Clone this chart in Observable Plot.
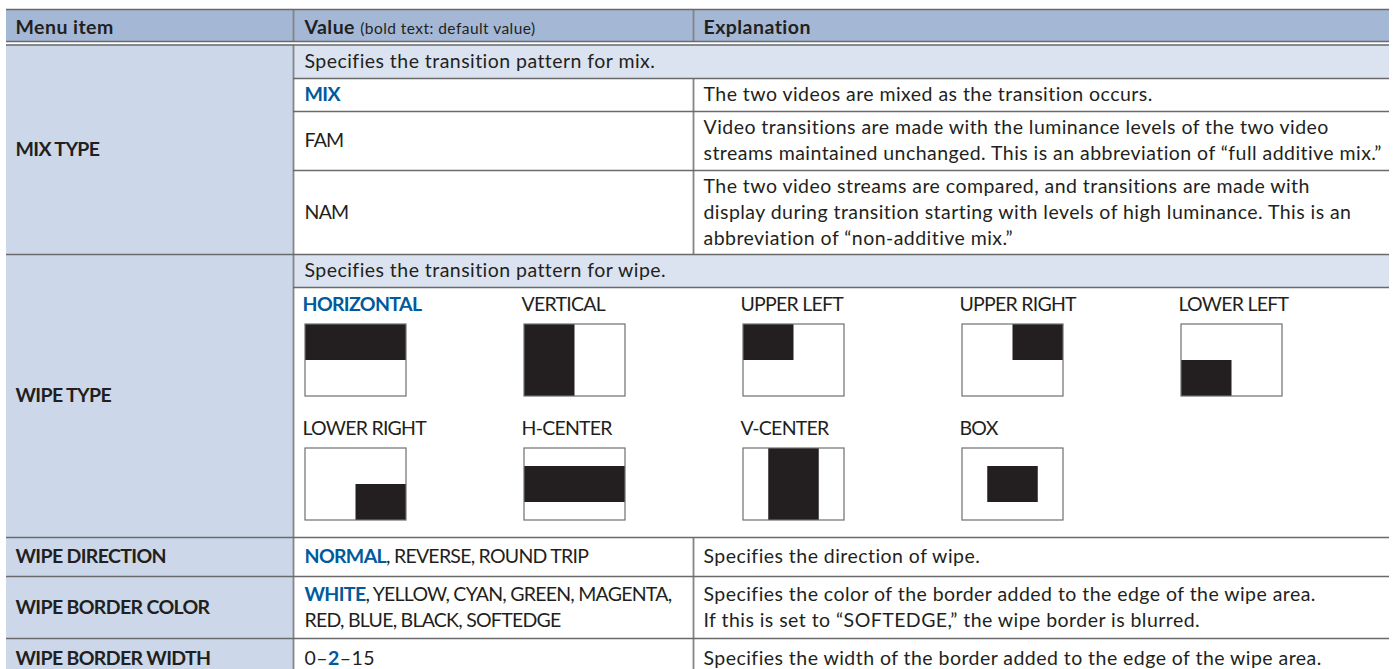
<!DOCTYPE html>
<html>
<head>
<meta charset="utf-8">
<script src="https://cdn.jsdelivr.net/npm/d3@7"></script>
<script src="https://cdn.jsdelivr.net/npm/@observablehq/plot@0.6"></script>
<style>
  html, body { margin: 0; padding: 0; background: #fff; }
  #chart svg { display: block; }
</style>
</head>
<body>
<div id="chart"></div>
<script>
// ---------------- DATA ----------------
const headers = ["Menu item", "Value", "Explanation"];
const valueHeaderNote = "(bold text: default value)";
const menuItems = ["MIX TYPE", "WIPE TYPE", "WIPE DIRECTION", "WIPE BORDER COLOR", "WIPE BORDER WIDTH"];

const mixTypeNote = "Specifies the transition pattern for mix.";
const mixTypes = ["MIX", "FAM", "NAM"];
const mixTypeDefault = "MIX";
const mixTypeExplanations = [
  ["The two videos are mixed as the transition occurs."],
  ["Video transitions are made with the luminance levels of the two video",
   "streams maintained unchanged. This is an abbreviation of “full additive mix.”"],
  ["The two video streams are compared, and transitions are made with",
   "display during transition starting with levels of high luminance. This is an",
   "abbreviation of “non-additive mix.”"]
];

const wipeTypeNote = "Specifies the transition pattern for wipe.";
const wipeTypes = ["HORIZONTAL", "VERTICAL", "UPPER LEFT", "UPPER RIGHT", "LOWER LEFT",
                   "LOWER RIGHT", "H-CENTER", "V-CENTER", "BOX"];
const wipeTypeDefault = "HORIZONTAL";
// dark area of each wipe pattern as fractions of its frame: [x1, y1, x2, y2]
const wipePatterns = [
  [0, 0, 1, 0.5], [0, 0, 0.5, 1], [0, 0, 0.5, 0.5], [0.5, 0, 1, 0.5], [0, 0.5, 0.5, 1],
  [0.5, 0.5, 1, 1], [0, 0.25, 1, 0.75], [0.25, 0, 0.75, 1], [0.25, 0.25, 0.75, 0.75]
];

const wipeDirections = ["NORMAL", "REVERSE", "ROUND TRIP"];
const wipeDirectionDefault = "NORMAL";
const wipeDirectionExplanation = ["Specifies the direction of wipe."];

const borderColors = ["WHITE", "YELLOW", "CYAN", "GREEN", "MAGENTA", "RED", "BLUE", "BLACK", "SOFTEDGE"];
const borderColorDefault = "WHITE";
const borderColorExplanation = [
  "Specifies the color of the border added to the edge of the wipe area.",
  "If this is set to “SOFTEDGE,” the wipe border is blurred."
];

const borderWidthRange = [0, 2, 15]; // min, default, max
const borderWidthExplanation = ["Specifies the width of the border added to the edge of the wipe area."];

// ---------------- LAYOUT & STYLE ----------------
const W = 1395, H = 669;
const FONT = "Lato";
const INK = "#231f20", BLUE = "#005a9c";
const HEAD_BG = "#a4b8d6", MENU_BG = "#ccd8ea", NOTE_BG = "#dbe3f0";
const LINE_C = "#6a6a6a", VLINE_C = "#858585";
const X = {left: 6, c1: 293, c2: 693, right: 1389};
const TX = {menu: 15, value: 304, expl: 703};
const Y = {
  top: 9, head: 41, head2: 44.5,
  mixNote: 78, mixRows: [78, 111, 170, 254],
  wipeNote: 287, wipe: 537, dir: 576, color: 638, width: 679
};
const LINE_H = 26;
const COLORS_PER_LINE = 5;
const BOX = {x0: 305, dx: 219, w: 101, h: 72, ys: [324, 448], labelGap: 20, perRow: 5};
const FS = 19.5;
const FS_SMALL = 15.5;

// letter spacing calibrated so that text widths follow the reference's narrower typeface
const ctx = document.createElement("canvas").getContext("2d");
function rawMeasure(t, size, weight) {
  ctx.font = `${weight} ${size}px ${FONT}`;
  return ctx.measureText(t).width;
}
const clampLS = v => Math.max(-1.5, Math.min(1, v));
const calib = (t, target, weight) => clampLS((target - rawMeasure(t, FS, weight)) / t.length);
const LS = {
  text: calib(mixTypeExplanations[1][1], 680, "normal"),
  caps: calib(borderColors.slice(COLORS_PER_LINE).join(", "), 256, "normal"),
  capsBold: calib(menuItems[3], 194, "bold")
};
const isCaps = t => /[A-Z]/.test(t) && t === t.toUpperCase();
function lsFor(t, weight) {
  if (!isCaps(t)) return LS.text;
  return weight === "bold" ? LS.capsBold : LS.caps;
}

// ---------------- BUILD TEXT SEGMENTS ----------------
const segs = [];
// parts: [{t, strong, bold, small}]
function rich(parts, x, y) {
  let cx = x;
  for (const p of parts) {
    const style = p.strong ? "strongBlue" : (p.small ? "small" : (p.bold ? "bold" : "normal"));
    const size = p.small ? FS_SMALL : FS;
    const weight = (p.strong || p.bold) ? "bold" : "normal";
    const caps = isCaps(p.t);
    const ls = lsFor(p.t, weight);
    segs.push({x: cx, y: p.small ? y + 0.32 * (FS - FS_SMALL) : y, text: p.t.trimEnd(), style, caps});
    cx += rawMeasure(p.t, size, weight) + ls * p.t.length;
  }
}
function lines(arr, x, yTop, yBot) {
  const c = (yTop + yBot) / 2;
  arr.forEach((l, i) => {
    const parts = typeof l === "string" ? [{t: l}] : l;
    rich(parts, x, c + (i - (arr.length - 1) / 2) * LINE_H);
  });
}
function listParts(items, def, trailingComma) {
  const parts = [];
  items.forEach((it, i) => {
    const sep = (i < items.length - 1 || trailingComma) ? ", " : "";
    if (it === def) { parts.push({t: it, strong: true}); if (sep) parts.push({t: sep}); }
    else parts.push({t: it + sep});
  });
  const merged = [];
  for (const p of parts) {
    const last = merged[merged.length - 1];
    if (last && !last.strong && !p.strong) last.t += p.t; else merged.push({...p});
  }
  return merged;
}

// header
const headY = (Y.top + Y.head) / 2 + 2;
rich([{t: headers[0], bold: true}], TX.menu, headY);
rich([{t: headers[1] + " ", bold: true}, {t: valueHeaderNote, small: true}], TX.value, headY);
rich([{t: headers[2], bold: true}], TX.expl, headY);

// menu item labels
const groupBounds = [[Y.head2, Y.mixRows[3]], [Y.mixRows[3], Y.wipe], [Y.wipe, Y.dir], [Y.dir, Y.color], [Y.color, Y.width]];
menuItems.forEach((m, i) => lines([[{t: m, bold: true}]], TX.menu, groupBounds[i][0], groupBounds[i][1]));

// mix type
lines([mixTypeNote], TX.value, Y.head2, Y.mixNote);
mixTypes.forEach((v, i) => {
  const y1 = Y.mixRows[i], y2 = Y.mixRows[i + 1];
  lines([[v === mixTypeDefault ? {t: v, strong: true} : {t: v}]], TX.value, y1, y2);
  lines(mixTypeExplanations[i], TX.expl, y1, y2);
});

// wipe type
lines([wipeTypeNote], TX.value, Y.mixRows[3], Y.wipeNote);
const frames = [], fills = [];
wipeTypes.forEach((w, i) => {
  const col = i % BOX.perRow, row = Math.floor(i / BOX.perRow);
  const bx = BOX.x0 + col * BOX.dx, by = BOX.ys[row];
  rich([w === wipeTypeDefault ? {t: w, strong: true} : {t: w}], bx - 3, by - BOX.labelGap);
  frames.push({x1: bx, x2: bx + BOX.w, y1: by, y2: by + BOX.h});
  const p = wipePatterns[i];
  fills.push({x1: bx + p[0] * BOX.w, x2: bx + p[2] * BOX.w, y1: by + p[1] * BOX.h, y2: by + p[3] * BOX.h});
});

// wipe direction
lines([listParts(wipeDirections, wipeDirectionDefault, false)], TX.value, Y.wipe, Y.dir);
lines(wipeDirectionExplanation, TX.expl, Y.wipe, Y.dir);

// border color
lines([listParts(borderColors.slice(0, COLORS_PER_LINE), borderColorDefault, true),
       listParts(borderColors.slice(COLORS_PER_LINE), borderColorDefault, false)], TX.value, Y.dir, Y.color);
lines(borderColorExplanation, TX.expl, Y.dir, Y.color);

// border width
lines([[{t: `${borderWidthRange[0]}–`}, {t: `${borderWidthRange[1]}`, strong: true}, {t: `–${borderWidthRange[2]}`}]], TX.value, Y.color, Y.width);
lines(borderWidthExplanation, TX.expl, Y.color, Y.width);

// ---------------- CELLS & RULES ----------------
const headCells = [{x1: X.left, x2: X.right, y1: Y.top, y2: Y.head}];
const menuCells = [{x1: X.left, x2: X.c1, y1: Y.head2, y2: H + 20}];
const noteCells = [
  {x1: X.c1, x2: X.right, y1: Y.head2, y2: Y.mixNote},
  {x1: X.c1, x2: X.right, y1: Y.mixRows[3], y2: Y.wipeNote}
];
const hRules = [
  {y: Y.top, x1: X.left, x2: X.right},
  {y: Y.head, x1: X.left, x2: X.right},
  {y: Y.head2, x1: X.left, x2: X.right},
  {y: Y.mixNote, x1: X.c1, x2: X.right},
  {y: Y.mixRows[1], x1: X.c1, x2: X.right},
  {y: Y.mixRows[2], x1: X.c1, x2: X.right},
  {y: Y.mixRows[3], x1: X.left, x2: X.right},
  {y: Y.wipeNote, x1: X.c1, x2: X.right},
  {y: Y.wipe, x1: X.left, x2: X.right},
  {y: Y.dir, x1: X.left, x2: X.right},
  {y: Y.color, x1: X.left, x2: X.right}
];
const vRules = [
  {x: X.c1, y1: Y.top, y2: Y.head},
  {x: X.c1, y1: Y.head2, y2: H + 20},
  {x: X.c2, y1: Y.top, y2: Y.head},
  {x: X.c2, y1: Y.mixNote, y2: Y.mixRows[3]},
  {x: X.c2, y1: Y.wipe, y2: H + 20}
];

const textMarks = [];
const lsByLabel = {};
for (const style of ["normal", "bold", "strongBlue", "small"]) {
  for (const caps of [false, true]) {
    const data = segs.filter(d => d.style === style && d.caps === caps);
    if (!data.length) continue;
    const weight = (style === "bold" || style === "strongBlue") ? "bold" : "normal";
    const label = `text-${style}-${caps ? "caps" : "mixed"}`;
    lsByLabel[label] = caps ? (weight === "bold" ? LS.capsBold : LS.caps) : LS.text;
    textMarks.push(Plot.text(data, {
      x: "x", y: "y", text: "text", textAnchor: "start", lineAnchor: "middle",
      fontFamily: FONT,
      fontSize: style === "small" ? FS_SMALL : FS,
      fontWeight: weight,
      fill: style === "strongBlue" ? BLUE : INK,
      ariaDescription: label
    }));
  }
}

const chart = Plot.plot({
  width: W, height: H, margin: 0,
  x: {domain: [0, W], range: [0, W], axis: null},
  y: {domain: [0, H], range: [0, H], axis: null},
  style: {background: "#fff", overflow: "hidden"},
  marks: [
    Plot.rect(headCells, {x1: "x1", x2: "x2", y1: "y1", y2: "y2", fill: HEAD_BG}),
    Plot.rect(menuCells, {x1: "x1", x2: "x2", y1: "y1", y2: "y2", fill: MENU_BG}),
    Plot.rect(noteCells, {x1: "x1", x2: "x2", y1: "y1", y2: "y2", fill: NOTE_BG}),
    Plot.rect(frames, {x1: "x1", x2: "x2", y1: "y1", y2: "y2", fill: "#fff"}),
    Plot.rect(fills, {x1: "x1", x2: "x2", y1: "y1", y2: "y2", fill: INK}),
    Plot.rect(frames, {x1: "x1", x2: "x2", y1: "y1", y2: "y2", fill: "none", stroke: "#6f6f6f", strokeWidth: 1.2}),
    Plot.ruleX(vRules, {x: "x", y1: "y1", y2: "y2", stroke: VLINE_C, strokeWidth: 1.8}),
    Plot.ruleY(hRules, {y: "y", x1: "x1", x2: "x2", stroke: LINE_C, strokeWidth: 1.4}),
    ...textMarks
  ]
});
// apply the calibrated letter spacing to each text group
for (const [label, ls] of Object.entries(lsByLabel)) {
  const g = d3.select(chart).selectAll(`g[aria-description="${label}"]`);
  g.style("letter-spacing", `${ls}px`);
  g.selectAll("text").style("letter-spacing", `${ls}px`);
}
document.getElementById("chart").appendChild(chart);
</script>
</body>
</html>
